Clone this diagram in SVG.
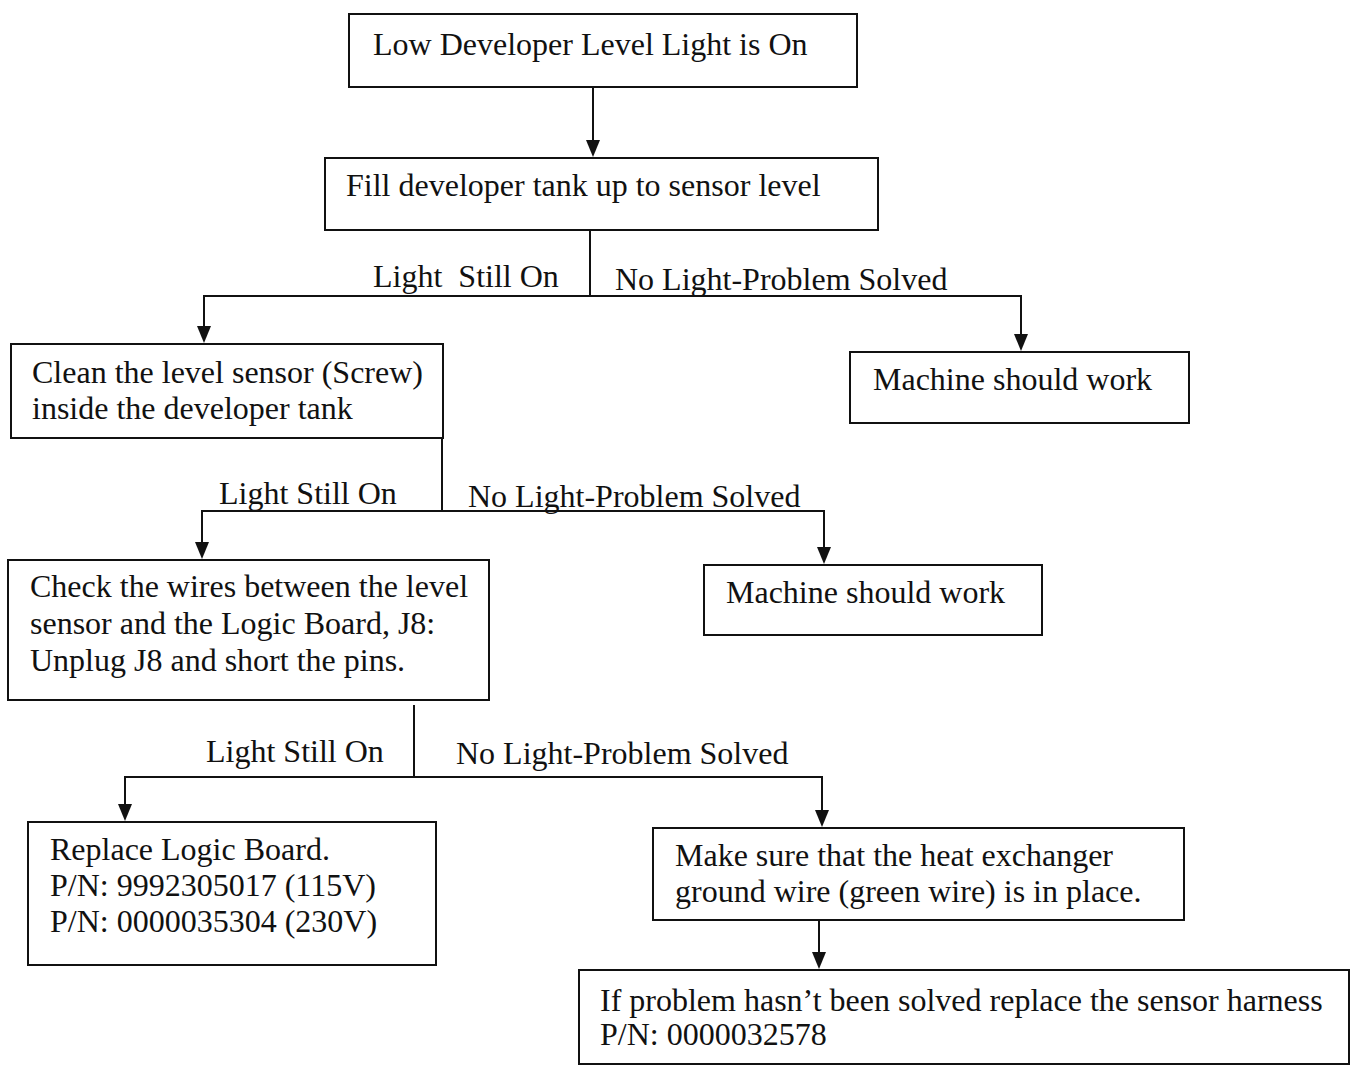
<svg xmlns="http://www.w3.org/2000/svg" width="1354" height="1067" viewBox="0 0 1354 1067">
<style>
.box{fill:#fff;stroke:#111;stroke-width:2}
.t{font-family:"Liberation Serif","Times New Roman",serif;font-size:32px;fill:#111;white-space:pre}
.c{fill:none;stroke:#111;stroke-width:2}
.ah{fill:#111}
</style>
<rect width="1354" height="1067" fill="#fff"/>
<g id="connectors">
<path class="c" d="M593,87 V145"/>
<path class="c" d="M590,230 V296"/>
<path class="c" d="M590,296 H204 V330"/>
<path class="c" d="M590,296 H1021 V338"/>
<path class="c" d="M442,438 V511"/>
<path class="c" d="M442,511 H202 V546"/>
<path class="c" d="M442,511 H824 V551"/>
<path class="c" d="M414,705 V777"/>
<path class="c" d="M414,777 H125 V808"/>
<path class="c" d="M414,777 H822 V814"/>
<path class="c" d="M819,920 V956"/>
<g class="ah">
<polygon points="586,140 600,140 593,157"/>
<polygon points="197,326 211,326 204,343"/>
<polygon points="1014,334 1028,334 1021,351"/>
<polygon points="195,542 209,542 202,559"/>
<polygon points="817,547 831,547 824,564"/>
<polygon points="118,804 132,804 125,821"/>
<polygon points="815,810 829,810 822,827"/>
<polygon points="812,952 826,952 819,969"/>
</g>
<text class="t" x="373" y="287" xml:space="preserve">Light  Still On</text>
<text class="t" x="615" y="290">No Light-Problem Solved</text>
<text class="t" x="219" y="504">Light Still On</text>
<text class="t" x="468" y="507">No Light-Problem Solved</text>
<text class="t" x="206" y="762">Light Still On</text>
<text class="t" x="456" y="764">No Light-Problem Solved</text>
</g>
<g id="n1">
<rect class="box" x="349" y="14" width="508" height="73"/>
<text class="t" x="373" y="55">Low Developer Level Light is On</text>
</g>
<g id="n2">
<rect class="box" x="325" y="158" width="553" height="72"/>
<text class="t" x="346" y="196">Fill developer tank up to sensor level</text>
</g>
<g id="n3">
<rect class="box" x="11" y="344" width="432" height="94"/>
<text class="t" x="32" y="383">Clean the level sensor (Screw)</text>
<text class="t" x="32" y="419">inside the developer tank</text>
</g>
<g id="n4">
<rect class="box" x="850" y="352" width="339" height="71"/>
<text class="t" x="873" y="390">Machine should work</text>
</g>
<g id="n5">
<rect class="box" x="8" y="560" width="481" height="140"/>
<text class="t" x="30" y="597">Check the wires between the level</text>
<text class="t" x="30" y="634">sensor and the Logic Board, J8:</text>
<text class="t" x="30" y="671">Unplug J8 and short the pins.</text>
</g>
<g id="n6">
<rect class="box" x="704" y="565" width="338" height="70"/>
<text class="t" x="726" y="603">Machine should work</text>
</g>
<g id="n7">
<rect class="box" x="28" y="822" width="408" height="143"/>
<text class="t" x="50" y="860">Replace Logic Board.</text>
<text class="t" x="50" y="896">P/N: 9992305017 (115V)</text>
<text class="t" x="50" y="932">P/N: 0000035304 (230V)</text>
</g>
<g id="n8">
<rect class="box" x="653" y="828" width="531" height="92"/>
<text class="t" x="675" y="866">Make sure that the heat exchanger</text>
<text class="t" x="675" y="902">ground wire (green wire) is in place.</text>
</g>
<g id="n9">
<rect class="box" x="579" y="970" width="770" height="94"/>
<text class="t" x="600" y="1011">If problem hasn’t been solved replace the sensor harness</text>
<text class="t" x="600" y="1045">P/N: 0000032578</text>
</g>
</svg>
